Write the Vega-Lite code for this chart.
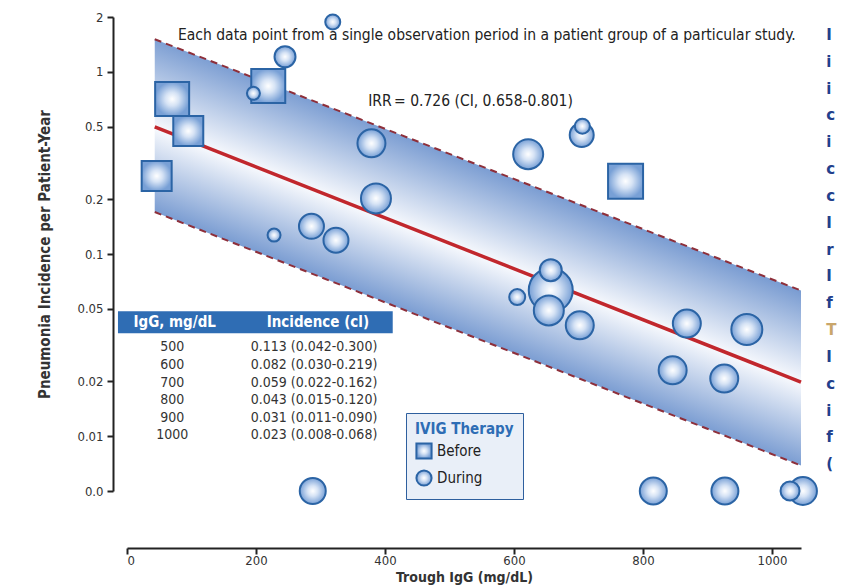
{
  "$schema": "https://vega.github.io/schema/vega-lite/v6.json",
  "width": 674,
  "height": 474,
  "autosize": {"type": "none"},
  "padding": {"left": 127, "top": 17, "right": 63, "bottom": 95},
  "background": "white",
  "config": {
    "font": "DejaVu Sans Condensed, Liberation Sans Narrow, sans-serif",
    "view": {"stroke": null},
    "axis": {
      "grid": false,
      "domainColor": "#222",
      "domainWidth": 2,
      "tickColor": "#222",
      "tickWidth": 2,
      "tickSize": 6,
      "labelColor": "#333",
      "labelFontSize": 13,
      "titleColor": "#333",
      "titleFontSize": 15,
      "titleFontWeight": "bold"
    }
  },
  "datasets": {
    "band": [
      {"igg": 43, "lo": 0.170, "mid": 0.499, "hi": 1.51},
      {"igg": 1045, "lo": 0.0069, "mid": 0.0198, "hi": 0.063}
    ],
    "points": [
      {"igg": 70, "rate": 0.709, "phase": "Before", "weight": 1156},
      {"igg": 95, "rate": 0.473, "phase": "Before", "weight": 900},
      {"igg": 46, "rate": 0.268, "phase": "Before", "weight": 900},
      {"igg": 219, "rate": 0.836, "phase": "Before", "weight": 1156},
      {"igg": 773, "rate": 0.251, "phase": "Before", "weight": 1225},
      {"igg": 319, "rate": 1.88, "phase": "During", "weight": 225},
      {"igg": 245, "rate": 1.21, "phase": "During", "weight": 441},
      {"igg": 196, "rate": 0.762, "phase": "During", "weight": 169},
      {"igg": 379, "rate": 0.405, "phase": "During", "weight": 784},
      {"igg": 386, "rate": 0.202, "phase": "During", "weight": 900},
      {"igg": 228, "rate": 0.127, "phase": "During", "weight": 169},
      {"igg": 286, "rate": 0.142, "phase": "During", "weight": 625},
      {"igg": 324, "rate": 0.119, "phase": "During", "weight": 625},
      {"igg": 622, "rate": 0.353, "phase": "During", "weight": 900},
      {"igg": 705, "rate": 0.45, "phase": "During", "weight": 576},
      {"igg": 706, "rate": 0.503, "phase": "During", "weight": 225},
      {"igg": 657, "rate": 0.0632, "phase": "During", "weight": 1936},
      {"igg": 657, "rate": 0.0815, "phase": "During", "weight": 484},
      {"igg": 654, "rate": 0.049, "phase": "During", "weight": 900},
      {"igg": 605, "rate": 0.058, "phase": "During", "weight": 256},
      {"igg": 702, "rate": 0.0406, "phase": "During", "weight": 784},
      {"igg": 868, "rate": 0.0415, "phase": "During", "weight": 784},
      {"igg": 961, "rate": 0.0385, "phase": "During", "weight": 961},
      {"igg": 846, "rate": 0.023, "phase": "During", "weight": 784},
      {"igg": 926, "rate": 0.0207, "phase": "During", "weight": 784},
      {"igg": 288, "rate": 0.005, "phase": "During", "weight": 676},
      {"igg": 816, "rate": 0.005, "phase": "During", "weight": 729},
      {"igg": 927, "rate": 0.005, "phase": "During", "weight": 729},
      {"igg": 1048, "rate": 0.005, "phase": "During", "weight": 784},
      {"igg": 1028, "rate": 0.005, "phase": "During", "weight": 361}
    ],
    "tableHeader": [
      {"igg": -14, "igg2": 412, "rate": 0.0485, "rate2": 0.0367}
    ],
    "tableHeaderText": [
      {"igg": 74, "rate": 0.0422, "label": "IgG, mg/dL"},
      {"igg": 296, "rate": 0.0422, "label": "Incidence (cl)"}
    ],
    "tableRows": [
      {"rate": 0.03075, "level": "500", "incidence": "0.113 (0.042-0.300)"},
      {"rate": 0.0246, "level": "600", "incidence": "0.082 (0.030-0.219)"},
      {"rate": 0.0197, "level": "700", "incidence": "0.059 (0.022-0.162)"},
      {"rate": 0.01576, "level": "800", "incidence": "0.043 (0.015-0.120)"},
      {"rate": 0.01262, "level": "900", "incidence": "0.031 (0.011-0.090)"},
      {"rate": 0.0101, "level": "1000", "incidence": "0.023 (0.008-0.068)"}
    ],
    "notes": [
      {"igg": 79, "rate": 1.592, "label": "Each data point from a single observation period in a patient group of a particular study.", "bold": false},
      {"igg": 374, "rate": 0.691, "label": "IRR", "bold": true},
      {"igg": 414, "rate": 0.691, "label": "= 0.726 (CI, 0.658-0.801)", "bold": false}
    ],
    "sideText": [
      {"rate": 1.592, "letter": "I"},
      {"rate": 1.135, "letter": "i"},
      {"rate": 0.809, "letter": "i"},
      {"rate": 0.576, "letter": "c"},
      {"rate": 0.41, "letter": "i"},
      {"rate": 0.292, "letter": "c"},
      {"rate": 0.208, "letter": "c"},
      {"rate": 0.148, "letter": "I"},
      {"rate": 0.1057, "letter": "r"},
      {"rate": 0.0753, "letter": "I"},
      {"rate": 0.0537, "letter": "f"},
      {"rate": 0.0382, "letter": "T"},
      {"rate": 0.0272, "letter": "I"},
      {"rate": 0.0194, "letter": "c"},
      {"rate": 0.0138, "letter": "i"},
      {"rate": 0.00985, "letter": "f"},
      {"rate": 0.00702, "letter": "("}
    ]
  },
  "layer": [
    {
      "data": {"name": "band"},
      "mark": {
        "type": "area",
        "fill": {
          "gradient": "linear",
          "x1": 0.593, "y1": 0.35, "x2": 0.413, "y2": 0.651,
          "stops": [
            {"offset": 0, "color": "#7b9dd2"},
            {"offset": 0.52, "color": "#f7f9fd"},
            {"offset": 1, "color": "#7b9dd2"}
          ]
        },
        "opacity": 1
      },
      "encoding": {
        "x": {
          "field": "igg", "type": "quantitative",
          "scale": {"domain": [0, 1045], "nice": false, "zero": false},
          "axis": {
            "title": "Trough IgG (mg/dL)",
            "values": [0, 200, 400, 600, 800, 1000],
            "format": "d",
            "offset": 57,
            "labelPadding": 0,
            "titlePadding": 3,
            "titleFontSize": 14
          }
        },
        "y": {
          "field": "lo", "type": "quantitative",
          "scale": {"type": "log", "domain": [0.005, 2], "nice": false},
          "axis": {
            "title": "Pneumonia Incidence per Patient-Year",
            "values": [0.005, 0.01, 0.02, 0.05, 0.1, 0.2, 0.5, 1, 2],
            "labelExpr": "datum.value < 0.006 ? '0.0' : format(datum.value, '~g')",
            "offset": 14,
            "labelPadding": 4,
            "titlePadding": 24
          }
        },
        "y2": {"field": "hi"}
      }
    },
    {
      "data": {"name": "band"},
      "mark": {"type": "line", "color": "#8e2f3a", "strokeWidth": 2, "strokeDash": [7, 5]},
      "encoding": {
        "x": {"field": "igg", "type": "quantitative"},
        "y": {"field": "hi", "type": "quantitative"}
      }
    },
    {
      "data": {"name": "band"},
      "mark": {"type": "line", "color": "#8e2f3a", "strokeWidth": 2, "strokeDash": [7, 5]},
      "encoding": {
        "x": {"field": "igg", "type": "quantitative"},
        "y": {"field": "lo", "type": "quantitative"}
      }
    },
    {
      "data": {"name": "band"},
      "mark": {"type": "line", "color": "#c1272d", "strokeWidth": 3.5},
      "encoding": {
        "x": {"field": "igg", "type": "quantitative"},
        "y": {"field": "mid", "type": "quantitative"}
      }
    },
    {
      "data": {"name": "tableHeader"},
      "mark": {"type": "rect", "color": "#2f6db4"},
      "encoding": {
        "x": {"field": "igg", "type": "quantitative"},
        "x2": {"field": "igg2"},
        "y": {"field": "rate", "type": "quantitative"},
        "y2": {"field": "rate2"}
      }
    },
    {
      "data": {"name": "tableHeaderText"},
      "mark": {"type": "text", "color": "white", "fontWeight": "bold", "fontSize": 15, "align": "center", "baseline": "middle"},
      "encoding": {
        "x": {"field": "igg", "type": "quantitative"},
        "y": {"field": "rate", "type": "quantitative"},
        "text": {"field": "label"}
      }
    },
    {
      "data": {"name": "tableRows"},
      "mark": {"type": "text", "color": "#333", "fontSize": 14, "align": "center", "baseline": "middle"},
      "encoding": {
        "x": {"datum": 70, "type": "quantitative"},
        "y": {"field": "rate", "type": "quantitative"},
        "text": {"field": "level"}
      }
    },
    {
      "data": {"name": "tableRows"},
      "mark": {"type": "text", "color": "#333", "fontSize": 14, "align": "center", "baseline": "middle"},
      "encoding": {
        "x": {"datum": 290, "type": "quantitative"},
        "y": {"field": "rate", "type": "quantitative"},
        "text": {"field": "incidence"}
      }
    },
    {
      "data": {"name": "notes"},
      "mark": {"type": "text", "color": "#222", "fontSize": 15.5, "align": "left", "baseline": "middle"},
      "encoding": {
        "x": {"field": "igg", "type": "quantitative"},
        "y": {"field": "rate", "type": "quantitative"},
        "text": {"field": "label"},
        "fontWeight": {"condition": {"test": "datum.bold", "value": "bold"}, "value": "normal"}
      }
    },
    {
      "data": {"name": "sideText"},
      "mark": {"type": "text", "fontSize": 15, "fontWeight": "bold", "align": "left", "baseline": "middle", "font": "DejaVu Sans"},
      "encoding": {
        "x": {"datum": 1084, "type": "quantitative"},
        "y": {"field": "rate", "type": "quantitative"},
        "text": {"field": "letter"},
        "color": {"condition": {"test": "datum.letter === 'T'", "value": "#c9a66b"}, "value": "#22408c"}
      }
    },
    {
      "data": {"name": "points"},
      "mark": {
        "type": "point",
        "filled": true,
        "fill": {
          "gradient": "radial",
          "stops": [
            {"offset": 0, "color": "#ffffff"},
            {"offset": 0.4, "color": "#d6e3f5"},
            {"offset": 1, "color": "#78a0d6"}
          ]
        },
        "stroke": "#2b64a5",
        "strokeWidth": 2,
        "opacity": 1,
        "fillOpacity": 1,
        "strokeOpacity": 1
      },
      "encoding": {
        "x": {"field": "igg", "type": "quantitative"},
        "y": {"field": "rate", "type": "quantitative"},
        "shape": {
          "field": "phase", "type": "nominal",
          "scale": {"domain": ["Before", "During"], "range": ["square", "circle"]},
          "legend": {
            "title": "IVIG Therapy",
            "orient": "none",
            "legendX": 279,
            "legendY": 396,
            "direction": "vertical",
            "fillColor": "#e9eff8",
            "strokeColor": "#2e5f9e",
            "padding": 9,
            "titleColor": "#2e6db5",
            "titleFontSize": 15,
            "titleFontWeight": "bold",
            "labelFontSize": 15,
            "labelColor": "#222",
            "symbolSize": 230,
            "symbolStrokeWidth": 2,
            "rowPadding": 3,
            "encode": {
              "symbols": {
                "update": {
                  "fill": {"value": {"gradient": "radial", "stops": [{"offset": 0, "color": "#ffffff"}, {"offset": 1, "color": "#78a0d6"}]}},
                  "stroke": {"value": "#2b64a5"},
                  "opacity": {"value": 1}
                }
              }
            }
          }
        },
        "size": {
          "field": "weight", "type": "quantitative",
          "scale": {"type": "linear", "domain": [0, 2000], "range": [0, 2000]},
          "legend": null
        }
      }
    }
  ]
}
